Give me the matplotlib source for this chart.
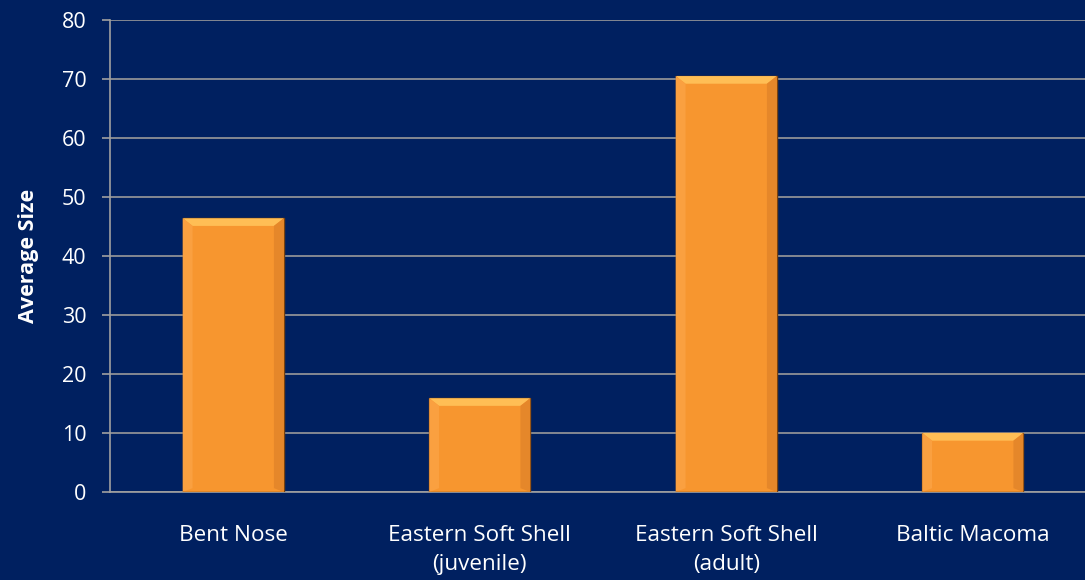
import matplotlib.pyplot as plt
import numpy as np

categories = ["Bent Nose", "Eastern Soft Shell\n(juvenile)", "Eastern Soft Shell\n(adult)", "Baltic Macoma"]
avg_size = [46.4, 15.9, 70.5, 10.0]

bg = "#002060"
bar_color = "#F7962F"

plt.rcParams['font.family'] = ['Open Sans', 'DejaVu Sans']

fig = plt.figure(figsize=(10.85, 5.8), dpi=100, facecolor=bg)
ax = fig.add_axes([110 / 1085, 88 / 580, 986 / 1085, 472 / 580])
ax.set_facecolor(bg)

x = np.arange(len(categories))
width = 0.41
bars = ax.bar(x, avg_size, width=width, color=bar_color, edgecolor="#7A420E",
              linewidth=1.0, zorder=3)

# soft bevel: lighter band along the top of each bar
for b in bars:
    x0, w, h = b.get_x(), b.get_width(), b.get_height()
    cap = min(1.3, h * 0.15)
    ax.fill([x0, x0 + w, x0 + w - 0.04, x0 + 0.04],
            [h, h, h - cap, h - cap], color="#FFBE55", zorder=4, lw=0)
    ax.fill([x0, x0 + 0.04, x0 + 0.04, x0],
            [h, h - cap, cap * 0.5, 0], color="#FAA040", zorder=4, lw=0)
    ax.fill([x0 + w, x0 + w - 0.04, x0 + w - 0.04, x0 + w],
            [h, h - cap, cap * 0.5, 0], color="#E5872A", zorder=4, lw=0)

ax.set_xlim(-0.5, 3.5)
ax.set_ylim(0, 80)
ax.set_yticks(range(0, 81, 10))
ax.set_xticks(x)
ax.set_xticklabels(categories, color="white", fontsize=16.2, linespacing=1.5)
ax.tick_params(axis='y', colors="#A0A0A0", labelcolor="white", labelsize=15.5,
               length=6, width=1.2, pad=11)
ax.tick_params(axis='x', length=0, pad=24)
ax.grid(axis='y', color="#9A9A9A", linewidth=1.2, zorder=0)
for s in ["top", "right"]:
    ax.spines[s].set_visible(False)
ax.spines["left"].set_color("#A0A0A0")
ax.spines["bottom"].set_color("#A0A0A0")
ax.spines["left"].set_linewidth(1.2)
ax.spines["bottom"].set_linewidth(1.2)

ax.set_ylabel("Average Size", color="white", fontsize=15.5, fontweight="bold", labelpad=16)

fig.savefig("out.png", dpi=100, facecolor=bg)
